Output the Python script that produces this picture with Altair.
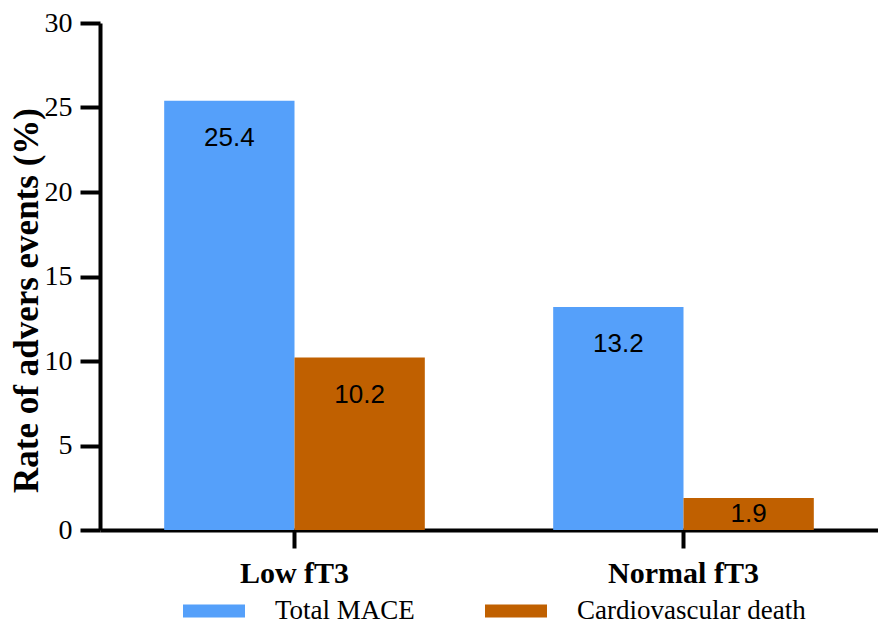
import altair as alt
import pandas as pd

groups = ["Low fT3", "Normal fT3"]
series = ["Total MACE", "Cardiovascular death"]
total_mace = [25.4, 13.2]
cv_death = [10.2, 1.9]
colors = ["#55A0FA", "#C06000"]
y_ticks = [0, 5, 10, 15, 20, 25, 30]

rows = []
for g, a, b in zip(groups, total_mace, cv_death):
    rows.append({"group": g, "series": series[0], "value": a})
    rows.append({"group": g, "series": series[1], "value": b})
df = pd.DataFrame(rows)

x_enc = alt.X(
    "group:N",
    sort=groups,
    scale=alt.Scale(paddingInner=0.33, paddingOuter=0.165),
    axis=alt.Axis(
        title=None, labelAngle=0, labelFont="Liberation Serif", labelFontWeight="bold",
        labelFontSize=30, labelColor="black", labelPadding=10,
        domainColor="black", domainWidth=4, tickColor="black", tickWidth=4, tickSize=18,
    ),
)
xoff = alt.XOffset("series:N", sort=series)

base = alt.Chart(df)

bars = base.mark_bar().encode(
    x=x_enc,
    xOffset=xoff,
    y=alt.Y(
        "value:Q",
        scale=alt.Scale(domain=[0, 30], nice=False),
        axis=alt.Axis(
            values=y_ticks, grid=False, title="Rate of advers events (%)",
            titleFont="Liberation Serif", titleFontWeight="bold", titleFontSize=35,
            titleColor="black", titleX=-91, titleY=277, titleBaseline="top", titleAngle=270,
            labelFont="Liberation Serif", labelFontSize=28, labelColor="black", labelPadding=8,
            domainColor="black", domainWidth=4, tickColor="black", tickWidth=4, tickSize=20,
        ),
    ),
    color=alt.Color(
        "series:N",
        sort=series,
        scale=alt.Scale(domain=series, range=colors),
        legend=alt.Legend(
            title=None, orient="none", direction="horizontal", legendX=83, legendY=557,
            symbolType="M-1,-0.21L1,-0.21L1,0.21L-1,0.21Z", symbolSize=3844,
            symbolStrokeWidth=0, labelFont="Liberation Serif", labelFontSize=27,
            labelColor="black", labelOffset=30, columnPadding=70, padding=0,
            labelLimit=500,
        ),
    ),
)

labels = base.transform_calculate(
    pos="max(datum.value - 2.2, datum.value / 2)"
).mark_text(font="Liberation Sans", fontSize=26, color="black", baseline="middle").encode(
    x=alt.X("group:N", sort=groups),
    xOffset=xoff,
    y=alt.Y("pos:Q"),
    text=alt.Text("value:Q", format=".1f"),
)

chart = (
    alt.layer(bars, labels)
    .properties(
        width=778, height=507,
        autosize=alt.AutoSizeParams(type="none"),
        padding={"left": 92, "top": 15, "right": 0, "bottom": 95},
    )
    .configure_view(stroke=None)
)

chart.save("out.html", embed_options={"renderer": "svg", "actions": False})
